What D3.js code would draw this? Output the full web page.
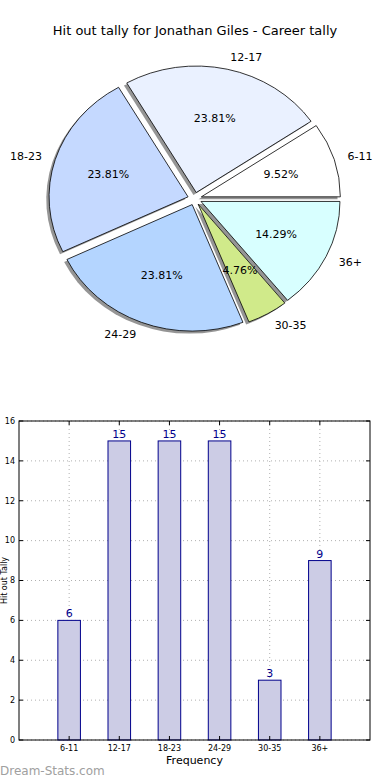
<!DOCTYPE html>
<html><head><meta charset="utf-8">
<script src="https://cdn.jsdelivr.net/npm/d3@7"></script>
<style>body{margin:0;background:#fff}svg{display:block}text{font-family:"DejaVu Sans",sans-serif}</style>
</head><body>
<script>
const categories = ["6-11","12-17","18-23","24-29","30-35","36+"];
const values = [6,15,15,15,3,9];
const pieColors = ["#ffffff","#eaf1ff","#c5d9ff","#b4d5ff","#d0ea8a","#d8ffff"];
const yTicks = [0,2,4,6,8,10,12,14,16];
const title = "Hit out tally for Jonathan Giles - Career tally";
const xLabel = "Frequency";
const yLabel = "Hit out Tally";

const W = 390, H = 780;
const svg = d3.select("body").append("svg").attr("width", W).attr("height", H);

// Title
svg.append("text").attr("x", 195).attr("y", 35).attr("text-anchor", "middle")
  .attr("font-size", 13).text(title);

// ---- Pie (elliptical, exploded, shadowed) ----
const cx = 194.7, cy = 198.7, rx = 139, ry = 126.5, explode = 0.05;
const total = d3.sum(values);
const pie = d3.pie().sort(null).startAngle(Math.PI / 2).endAngle(Math.PI / 2 - 2 * Math.PI);
const arcs = pie(values);
const arc = d3.arc().innerRadius(0).outerRadius(rx);
const sy = ry / rx;
const pieG = svg.append("g");

arcs.forEach((a, i) => {
  const mid = (a.startAngle + a.endAngle) / 2;
  const ux = Math.sin(mid), uy = -Math.cos(mid);
  const ox = cx + explode * rx * ux, oy = cy + explode * ry * uy;
  pieG.append("path").attr("d", arc(a))
    .attr("transform", `translate(${ox - 2.8},${oy + 2.5}) scale(1,${sy})`)
    .attr("fill", "#8a8a8a").attr("fill-opacity", 0.9);
});
arcs.forEach((a, i) => {
  const mid = (a.startAngle + a.endAngle) / 2;
  const ux = Math.sin(mid), uy = -Math.cos(mid);
  const ox = cx + explode * rx * ux, oy = cy + explode * ry * uy;
  pieG.append("path").attr("d", arc(a))
    .attr("transform", `translate(${ox},${oy}) scale(1,${sy})`)
    .attr("fill", pieColors[i]).attr("stroke", "#000").attr("stroke-width", 0.8)
    .attr("vector-effect", "non-scaling-stroke");
  const lx = ox + 1.1 * rx * ux, ly = oy + 1.1 * ry * uy;
  pieG.append("text").attr("x", lx).attr("y", ly).attr("dy", "0.35em")
    .attr("text-anchor", ux > 0 ? "start" : "end")
    .attr("font-size", 11).text(categories[i]);
  const px = ox + 0.6 * rx * ux, py = oy + 0.6 * ry * uy;
  pieG.append("text").attr("x", px).attr("y", py).attr("dy", "0.35em")
    .attr("text-anchor", "middle").attr("font-size", 11)
    .text((values[i] / total * 100).toFixed(2) + "%");
});

// ---- Bar chart ----
const L = 19, R = 370, T = 421, B = 740;
const x = d3.scaleLinear().domain([-1, 6]).range([L, R]);
const y = d3.scaleLinear().domain([0, 16]).range([B, T]);
const g = svg.append("g");

g.selectAll(".gy").data(yTicks).join("line")
  .attr("x1", L).attr("x2", R).attr("y1", d => y(d)).attr("y2", d => y(d))
  .attr("stroke", "#b0b0b0").attr("stroke-width", 1).attr("stroke-dasharray", "1,3");
g.selectAll(".gx").data(categories).join("line")
  .attr("x1", (d, i) => x(i)).attr("x2", (d, i) => x(i)).attr("y1", T).attr("y2", B)
  .attr("stroke", "#b0b0b0").attr("stroke-width", 1).attr("stroke-dasharray", "1,3");

const bw = x(0.45) - x(0);
g.selectAll(".bar").data(values).join("rect")
  .attr("x", (d, i) => x(i) - bw / 2).attr("y", d => y(d))
  .attr("width", bw).attr("height", d => B - y(d))
  .attr("fill", "#ccccE5").attr("stroke", "#00008b").attr("stroke-width", 1);
g.selectAll(".bl").data(values).join("text")
  .attr("x", (d, i) => x(i)).attr("y", d => y(d) - 3)
  .attr("text-anchor", "middle").attr("font-size", 11).attr("fill", "#00008b")
  .text(d => d);

g.append("rect").attr("x", L).attr("y", T).attr("width", R - L).attr("height", B - T)
  .attr("fill", "none").attr("stroke", "#000").attr("stroke-width", 1);

g.selectAll(".ty").data(yTicks).join("path")
  .attr("d", d => `M${L},${y(d)}h4M${R},${y(d)}h-4`).attr("stroke", "#000");
g.selectAll(".tx").data(categories).join("path")
  .attr("d", (d, i) => `M${x(i)},${B}v-4M${x(i)},${T}v4`).attr("stroke", "#000");

g.selectAll(".yl").data(yTicks).join("text")
  .attr("x", L - 4).attr("y", d => y(d)).attr("dy", "0.35em")
  .attr("text-anchor", "end").attr("font-size", 8).text(d => d);
g.selectAll(".xl").data(categories).join("text")
  .attr("x", (d, i) => x(i)).attr("y", B + 11)
  .attr("text-anchor", "middle").attr("font-size", 8).text(d => d);

svg.append("text").attr("x", (L + R) / 2).attr("y", 764).attr("text-anchor", "middle")
  .attr("font-size", 11).text(xLabel);
svg.append("text").attr("transform", `translate(7,${(T + B) / 2}) rotate(-90)`)
  .attr("text-anchor", "middle").attr("font-size", 8).text(yLabel);

svg.append("text").attr("x", 0).attr("y", 775).attr("font-size", 12)
  .attr("fill", "#a0a0a0").text("Dream-Stats.com");
</script>
</body></html>
